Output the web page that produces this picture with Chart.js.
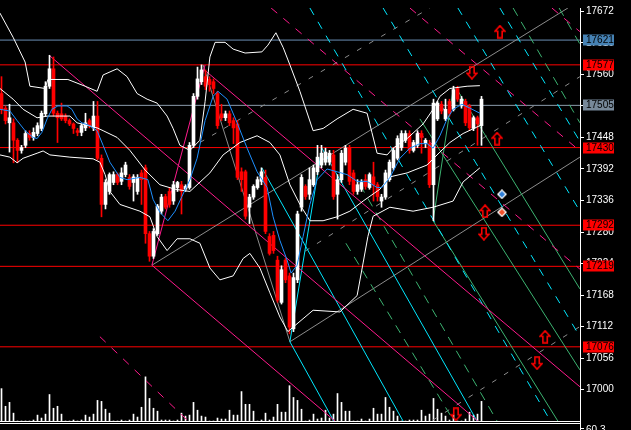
<!DOCTYPE html>
<html>
<head>
<meta charset="utf-8">
<script src="https://cdn.jsdelivr.net/npm/chart.js@4.4.1/dist/chart.umd.min.js"></script>
<style>
  html, body { margin: 0; padding: 0; background: #000; overflow: hidden; }
  canvas { display: block; }
</style>
</head>
<body>
<canvas id="chart" width="631" height="430"></canvas>
<script>
// candle index 0..120, one slot per bar
const candleOpen  = [17526,17500,17474,17474,17443,17425,17434,17455,17448,17455,17464,17490,17539,17570,17491,17490,17486,17478,17472,17460,17457,17465,17478,17465,17486,17411,17329,17352,17368,17382,17370,17382,17377,17368,17352,17385,17394,17277,17237,17277,17317,17343,17352,17335,17359,17364,17356,17359,17434,17521,17547,17556,17551,17547,17526,17490,17483,17490,17478,17472,17387,17387,17324,17342,17359,17370,17377,17272,17274,17230,17155,17230,17202,17108,17195,17324,17361,17347,17364,17387,17399,17404,17404,17417,17347,17373,17404,17429,17385,17352,17356,17373,17359,17378,17364,17335,17342,17373,17394,17411,17430,17443,17455,17425,17434,17455,17437,17437,17364,17481,17507,17481,17512,17498,17535,17504,17512,17504,17464,17483,17469];
const candleHigh  = [17556,17504,17507,17481,17446,17434,17460,17460,17465,17474,17495,17547,17594,17591,17495,17509,17490,17481,17474,17464,17472,17491,17481,17512,17512,17417,17373,17385,17387,17385,17394,17404,17382,17382,17382,17390,17399,17281,17286,17329,17347,17347,17359,17370,17370,17370,17364,17439,17526,17573,17577,17568,17556,17552,17530,17507,17495,17495,17483,17478,17394,17390,17347,17364,17378,17394,17390,17277,17281,17237,17220,17233,17207,17207,17317,17382,17364,17394,17399,17434,17434,17429,17425,17425,17382,17425,17434,17434,17390,17373,17373,17382,17385,17404,17368,17347,17390,17408,17429,17451,17460,17460,17460,17443,17460,17460,17446,17443,17516,17512,17512,17516,17516,17539,17539,17521,17516,17507,17486,17486,17521];
const candleLow   = [17490,17472,17422,17403,17403,17420,17430,17443,17443,17451,17460,17486,17535,17486,17439,17478,17474,17469,17455,17451,17451,17460,17465,17460,17408,17307,17321,17347,17364,17364,17364,17378,17356,17335,17347,17329,17260,17228,17233,17274,17312,17321,17324,17329,17352,17312,17352,17356,17430,17516,17542,17533,17530,17526,17464,17478,17478,17469,17437,17373,17352,17303,17295,17338,17356,17364,17277,17239,17242,17155,17152,17190,17099,17103,17190,17317,17338,17338,17361,17382,17394,17399,17399,17338,17303,17368,17399,17364,17347,17347,17352,17356,17356,17335,17335,17324,17338,17370,17390,17408,17425,17439,17420,17422,17430,17420,17430,17359,17300,17478,17490,17478,17486,17495,17512,17500,17469,17460,17460,17434,17434];
const candleClose = [17498,17478,17483,17443,17425,17430,17455,17448,17457,17469,17491,17539,17570,17491,17483,17481,17478,17472,17464,17457,17469,17474,17469,17486,17411,17329,17368,17382,17382,17368,17385,17399,17361,17378,17377,17373,17277,17237,17281,17326,17342,17324,17329,17364,17368,17352,17361,17434,17521,17552,17568,17539,17542,17535,17469,17483,17490,17474,17465,17377,17373,17308,17342,17361,17373,17387,17281,17242,17247,17159,17213,17195,17111,17199,17312,17377,17343,17373,17394,17413,17420,17422,17420,17343,17373,17420,17429,17370,17352,17364,17368,17361,17382,17364,17343,17342,17385,17404,17425,17446,17455,17455,17425,17439,17455,17448,17443,17364,17509,17509,17495,17498,17491,17533,17516,17516,17474,17465,17483,17472,17516];
const tickVolume  = [33,15,19,8,0,0,0,0,1,6,3,7,27,13,15,7,0,0,1,0,1,6,4,7,21,20,12,8,0,0,1,0,1,7,4,14,45,23,13,10,1,1,1,0,1,8,5,6,19,11,5,4,0,0,3,2,2,11,6,6,30,17,17,10,0,1,8,1,4,17,9,9,36,24,21,12,0,1,7,2,3,11,3,7,28,19,10,10,0,0,2,0,2,13,7,7,24,14,10,5,0,0,1,1,1,11,5,7,23,12,8,5,1,6,0,0,2,9,6,7,20];

// price axis labels and price levels
const priceTicks = [17672,17616,17560,17504,17448,17392,17336,17280,17224,17168,17112,17056,17000];
const redLevels = [17577,17430,17292,17219,17076];
const blueLevel = 17621;
const grayLevel = 17505;

// bollinger bands and fast MA, [bar, price]
const bbUpper = [[-0.4,17669],[2.9,17626],[5.9,17582],[7.1,17539],[10.9,17535],[11.6,17551],[16.6,17551],[20.9,17539],[23.9,17530],[25.4,17559],[28.9,17570],[31.4,17556],[33.9,17526],[36.4,17516],[38.9,17509],[41.4,17486],[42.9,17464],[44.6,17434],[47.1,17425],[49.6,17443],[50.9,17512],[52.1,17591],[53.4,17617],[55.9,17617],[57.9,17605],[60.9,17598],[65.1,17600],[66.6,17612],[68.6,17634],[70.4,17608],[72.1,17577],[74.6,17530],[77.9,17460],[80.4,17464],[83.9,17481],[87.9,17498],[91.4,17491],[92.6,17457],[93.9,17420],[96.4,17417],[97.9,17429],[101.4,17446],[105.4,17472],[107.9,17498],[109.6,17521],[112.1,17535],[116.4,17539],[119.6,17540]];
const bbMiddle = [[-0.4,17535],[2.9,17516],[5.4,17498],[8.9,17483],[11.6,17486],[17.1,17486],[18.9,17474],[23.9,17465],[25.4,17460],[28.9,17448],[32.1,17425],[35.9,17390],[39.6,17364],[43.4,17356],[47.1,17352],[52.1,17385],[55.4,17417],[59.6,17439],[63.9,17451],[67.1,17439],[69.6,17417],[72.1,17364],[74.6,17329],[77.1,17300],[80.4,17300],[83.9,17307],[87.1,17317],[90.4,17335],[94.6,17356],[97.1,17378],[101.4,17385],[106.4,17399],[109.6,17422],[112.1,17439],[115.4,17455],[119.6,17469]];
const bbLower = [[-0.4,17417],[2.1,17413],[3.9,17403],[5.4,17411],[8.9,17420],[10.4,17424],[12.1,17417],[17.1,17413],[22.9,17410],[24.6,17404],[25.9,17382],[27.1,17352],[29.6,17329],[34.6,17317],[37.1,17307],[38.9,17272],[41.4,17247],[43.9,17268],[47.1,17268],[49.6,17260],[52.1,17216],[54.6,17195],[57.9,17202],[60.4,17233],[62.1,17242],[64.6,17216],[67.1,17172],[69.6,17129],[71.6,17103],[72.9,17111],[77.9,17141],[84.6,17138],[88.9,17167],[90.4,17225],[91.6,17272],[92.9,17308],[97.1,17324],[102.9,17317],[107.9,17324],[112.9,17335],[115.4,17369],[119.6,17394]];
const fastMA = [[-0.4,17498],[2.1,17495],[3.9,17478],[5.9,17460],[7.9,17448],[8.9,17446],[10.1,17457],[11.4,17481],[12.6,17498],[14.1,17504],[16.4,17504],[17.6,17498],[18.9,17481],[20.1,17474],[22.1,17469],[23.9,17460],[25.4,17434],[27.1,17404],[29.6,17377],[31.4,17373],[34.6,17377],[36.6,17373],[37.9,17338],[39.6,17315],[41.6,17300],[43.4,17317],[45.1,17343],[47.1,17373],[48.9,17411],[50.9,17478],[52.9,17521],[54.1,17530],[56.4,17516],[58.9,17474],[61.4,17429],[63.9,17387],[66.4,17359],[67.9,17307],[69.6,17265],[71.4,17230],[72.4,17207],[73.9,17221],[75.4,17272],[77.1,17329],[78.9,17373],[81.4,17392],[83.9,17387],[86.4,17382],[88.9,17370],[91.4,17370],[93.9,17359],[95.1,17359],[97.1,17377],[99.6,17411],[102.1,17429],[104.6,17437],[106.4,17437],[107.9,17429],[109.6,17451],[111.4,17481],[112.9,17498],[115.1,17507],[117.1,17500],[119.6,17491]];

// drawn trend objects, each [[bar, price], [bar, price]]
const pinkLines   = [[[11.9,17594],[119.1,16944]], [[50.4,17570],[144.6,17005]], [[37.6,17221],[83.4,16944]], [[37.6,17221],[50.9,17577]]];
const pinkDashed  = [[[67.4,17678],[144.6,17214]], [[102.1,17678],[144.6,17424]], [[137.6,17678],[144.6,17636]], [[24.6,17094],[46.4,16946]]];
const cyanLines   = [[[65.1,17394],[100.4,16944]], [[80.1,17429],[118.9,16944]], [[72.1,17085],[83.1,16944]], [[72.1,17085],[80.1,17429]]];
const cyanDashed  = [[[77.1,17678],[137.1,16946]], [[95.4,17678],[144.6,17094]], [[114.1,17678],[144.6,17317]], [[124.6,17678],[144.6,17441]]];
const greenLines  = [[[107.9,17300],[139.1,16944]], [[104.6,17481],[144.6,17035]], [[113.9,17533],[144.6,17179]], [[107.9,17300],[112.9,17533]]];
const greenDashed = [[[89.6,17364],[123.9,16944]], [[86.1,17260],[113.1,16944]], [[127.9,17678],[144.6,17474]], [[139.4,17678],[144.6,17614]]];
const grayLines   = [[[50.4,17577],[72.1,17085]], [[37.6,17221],[141.6,17678]], [[72.1,17085],[144.6,17413]]];
const grayDashed  = [[[49.6,17439],[107.1,17678]], [[75.9,17246],[144.6,17556]], [[107.9,16946],[144.6,17112]]];

// signal arrows
const upArrows   = [[124.6,17636],[123.9,17446],[120.9,17317],[135.9,17094]];
const downArrows = [[117.6,17563],[120.6,17277],[133.9,17047],[113.6,16956]];
const blueSignal = [[125.1,17347]];
const redSignal  = [[125.1,17315]];

const X_MIN = -0.375, X_MAX = 144.625;
const Y_MIN = 16944.2, Y_MAX = 17678;

function arrowIcon(up, color) {
  const c = document.createElement('canvas');
  c.width = 12; c.height = 14;
  const g = c.getContext('2d');
  g.strokeStyle = color; g.lineWidth = 1.6;
  const pts = [[6,1],[11,6.5],[8.2,6.5],[8.2,13],[3.8,13],[3.8,6.5],[1,6.5]];
  g.beginPath();
  pts.forEach(([x, y], k) => {
    const yy = up ? y : 14 - y;
    if (k) g.lineTo(x, yy); else g.moveTo(x, yy);
  });
  g.closePath(); g.stroke();
  return c;
}

function signalIcon(fill) {
  const c = document.createElement('canvas');
  c.width = 10; c.height = 10;
  const g = c.getContext('2d');
  g.fillStyle = '#fff';
  g.beginPath(); g.moveTo(5,0); g.lineTo(10,5); g.lineTo(5,10); g.lineTo(0,5); g.closePath(); g.fill();
  g.fillStyle = fill;
  g.beginPath(); g.moveTo(5,1.8); g.lineTo(8.2,5); g.lineTo(5,8.2); g.lineTo(1.8,5); g.closePath(); g.fill();
  return c;
}

const pts = arr => arr.map(([x, y]) => ({ x, y }));

function lineSet(points, color, dash, order) {
  return {
    type: 'line', data: pts(points), borderColor: color, borderWidth: 1,
    borderDash: dash || [], pointRadius: 0, tension: 0, fill: false, order
  };
}

function markerSet(points, icon) {
  return {
    type: 'scatter', data: pts(points), pointStyle: icon,
    pointRadius: 6, order: 1
  };
}

const idx = candleOpen.map((_, i) => i);
const bull = idx.map(i => candleClose[i] >= candleOpen[i]);
const candleCol = bull.map(b => b ? '#ffffff' : '#ff0000');

const datasets = [];

// volume
datasets.push({
  type: 'bar', yAxisID: 'yv', data: idx.map(i => ({ x: i, y: tickVolume[i] })),
  backgroundColor: '#ffffff', barThickness: 1, grouped: false, order: 100
});

// horizontal levels
const fullRow = v => [[X_MIN, v], [X_MAX, v]];
redLevels.forEach(v => datasets.push(lineSet(fullRow(v), '#ff0000', null, 90)));
datasets.push(lineSet(fullRow(blueLevel), '#6b8fb5', null, 90));
datasets.push(lineSet(fullRow(grayLevel), '#8a9bab', null, 90));

// trend objects
grayLines.forEach(l => datasets.push(lineSet(l, '#8c8c8c', null, 85)));
grayDashed.forEach(l => datasets.push(lineSet(l, '#8c8c8c', [5, 9], 85)));
greenLines.forEach(l => datasets.push(lineSet(l, '#3cb371', null, 84)));
greenDashed.forEach(l => datasets.push(lineSet(l, '#3cb371', [9, 7], 84)));
cyanLines.forEach(l => datasets.push(lineSet(l, '#00e8ff', null, 83)));
cyanDashed.forEach(l => datasets.push(lineSet(l, '#00e8ff', [8, 8], 83)));
pinkLines.forEach(l => datasets.push(lineSet(l, '#ff1a8c', null, 82)));
pinkDashed.forEach(l => datasets.push(lineSet(l, '#ff1a8c', [8, 8], 82)));

// candles: wicks then bodies
datasets.push({
  type: 'bar', data: idx.map(i => ({ x: i, y: [candleLow[i], candleHigh[i]] })),
  backgroundColor: candleCol, barThickness: 1, grouped: false, order: 70
});
datasets.push({
  type: 'bar', data: idx.map(i => ({ x: i, y: [candleOpen[i], candleClose[i]] })),
  backgroundColor: candleCol, barThickness: 3, grouped: false, minBarLength: 1, order: 60
});

// indicators
datasets.push(lineSet(bbUpper, '#ffffff', null, 50));
datasets.push(lineSet(bbMiddle, '#ffffff', null, 50));
datasets.push(lineSet(bbLower, '#ffffff', null, 50));
datasets.push(lineSet(fastMA, '#1e90ff', null, 40));

// arrows
datasets.push(markerSet(upArrows, arrowIcon(true, '#ff0000')));
datasets.push(markerSet(downArrows, arrowIcon(false, '#ff0000')));
datasets.push(markerSet(blueSignal, signalIcon('#2f7fd8')));
datasets.push(markerSet(redSignal, signalIcon('#f0502a')));

const priceBoxes = {
  id: 'priceBoxes',
  afterDraw(chart) {
    const { ctx, scales: { y }, chartArea } = chart;
    const boxes = [[blueLevel, '#4682b4'], [grayLevel, '#778899']]
      .concat(redLevels.map(v => [v, '#ff0000']));
    ctx.save();
    ctx.font = '10px "Liberation Sans", Arial, sans-serif';
    ctx.textBaseline = 'middle';
    boxes.forEach(([v, col]) => {
      const py = Math.round(y.getPixelForValue(v));
      ctx.fillStyle = col;
      ctx.fillRect(chartArea.right + 3, py - 5.5, 31, 11);
      ctx.fillStyle = '#000';
      ctx.fillText(String(v), chartArea.right + 6, py + 0.5);
    });
    // bottom sub-window frame
    ctx.strokeStyle = '#ffffff';
    ctx.lineWidth = 1;
    ctx.beginPath();
    ctx.moveTo(0, chartArea.bottom + 0.5); ctx.lineTo(chartArea.right, chartArea.bottom + 0.5);
    ctx.moveTo(0, chartArea.bottom + 2.5); ctx.lineTo(chartArea.right, chartArea.bottom + 2.5);
    ctx.moveTo(chartArea.right + 0.5, chartArea.bottom); ctx.lineTo(chartArea.right + 0.5, 430);
    ctx.moveTo(chartArea.right, chartArea.bottom + 7.5); ctx.lineTo(chartArea.right + 4, chartArea.bottom + 7.5);
    ctx.stroke();
    ctx.fillStyle = '#ffffff';
    ctx.textBaseline = 'top';
    ctx.fillText('60.3', chartArea.right + 6, chartArea.bottom + 4);
    ctx.restore();
  }
};

new Chart(document.getElementById('chart'), {
  type: 'bar',
  data: { datasets },
  options: {
    responsive: false,
    animation: false,
    events: [],
    layout: { autoPadding: false, padding: { left: 0, top: 0, right: 0, bottom: 9 } },
    plugins: { legend: { display: false }, tooltip: { enabled: false } },
    scales: {
      x: { type: 'linear', min: X_MIN, max: X_MAX, display: false, offset: false },
      y: {
        position: 'right', min: Y_MIN, max: Y_MAX,
        afterFit(s) { s.width = 51; },
        afterBuildTicks(s) { s.ticks = priceTicks.map(v => ({ value: v })); },
        grid: { drawOnChartArea: false, drawTicks: true, tickLength: 4, color: '#ffffff' },
        border: { display: true, color: '#ffffff' },
        ticks: {
          color: '#ffffff', padding: 2, autoSkip: false,
          font: { family: '"Liberation Sans", Arial, sans-serif', size: 10 },
          callback: v => String(v)
        }
      },
      yv: { display: false, min: 0, max: 421 }
    }
  },
  plugins: [priceBoxes]
});
</script>
</body>
</html>
